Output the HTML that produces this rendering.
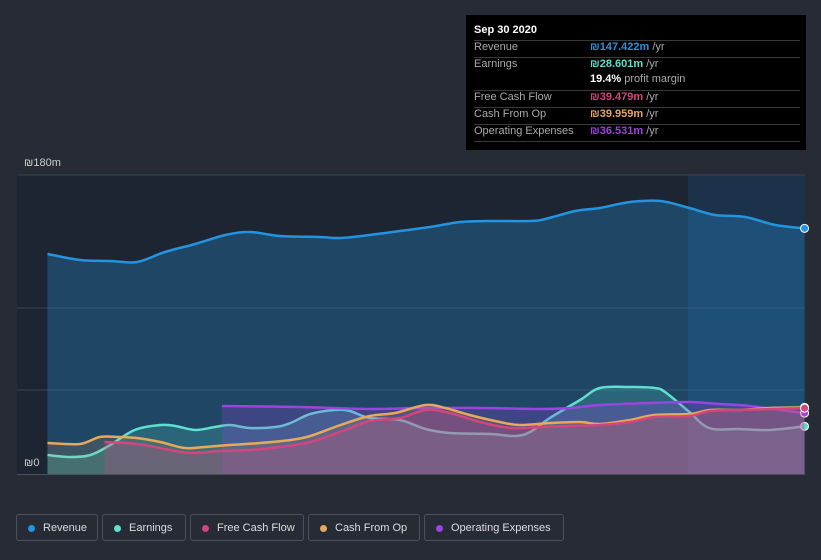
<!DOCTYPE html>
<html><head><meta charset="utf-8"><style>
body{margin:0;background:#262b36;font-family:"Liberation Sans",sans-serif;}
#wrap{position:relative;width:821px;height:560px;overflow:hidden;background:#262b36;}
.tt{position:absolute;left:466px;top:15px;width:340px;height:135px;background:#000;color:#fff;font-size:11px;}
.tt .row{position:absolute;left:8px;width:326px;height:16px;border-top:1px solid #3a3a3a;color:#aaa;}
.tt .row span{position:absolute;left:116px;font-weight:bold;}
.leg{position:absolute;top:514px;height:27px;border:1px solid #4a5060;border-radius:3px;color:#ddd;font-size:11px;line-height:27px;box-sizing:border-box;padding-left:26px;}
.leg i{position:absolute;left:11px;top:10px;width:7px;height:7px;border-radius:50%;}
</style></head><body>
<div id="wrap">
<svg id="svg" width="821" height="560" style="position:absolute;left:0;top:0"></svg>
<div class="tt">
<div style="position:absolute;left:8px;top:9px;font-weight:bold;font-size:11px">Sep 30 2020</div>
<div class="row" style="top:25px">Revenue<span style="color:#2394df">₪147.422m <b style="font-weight:normal;color:#aaa">/yr</b></span></div>
<div class="row" style="top:42px">Earnings<span style="color:#5fe0cf">₪28.601m <b style="font-weight:normal;color:#aaa">/yr</b></span></div>
<div class="row" style="top:58px;border-top:none"><span style="color:#fff">19.4% <b style="font-weight:normal;color:#aaa">profit margin</b></span></div>
<div class="row" style="top:75px">Free Cash Flow<span style="color:#d2457f">₪39.479m <b style="font-weight:normal;color:#aaa">/yr</b></span></div>
<div class="row" style="top:92px">Cash From Op<span style="color:#e6a95a">₪39.959m <b style="font-weight:normal;color:#aaa">/yr</b></span></div>
<div class="row" style="top:109px">Operating Expenses<span style="color:#9b44e0">₪36.531m <b style="font-weight:normal;color:#aaa">/yr</b></span></div>
<div style="position:absolute;left:8px;top:126px;width:326px;border-top:1px solid #3a3a3a"></div>
</div>
<div class="leg" style="left:16px;width:82px"><i style="background:#2394df"></i>Revenue</div>
<div class="leg" style="left:102px;width:84px"><i style="background:#5fe0cf"></i>Earnings</div>
<div class="leg" style="left:190px;width:114px"><i style="background:#d2457f"></i>Free Cash Flow</div>
<div class="leg" style="left:308px;width:112px"><i style="background:#e6a95a"></i>Cash From Op</div>
<div class="leg" style="left:424px;width:140px"><i style="background:#9b44e0"></i>Operating Expenses</div>
</div>
<script>
const revYears=[14.23,14.51,14.77,15.0,15.24,15.5,15.76,15.97,16.23,16.57,16.75,17.0,17.26,17.52,17.78,18.04,18.38,18.51,18.77,18.98,19.24,19.5,19.75,19.97,20.23,20.49,20.74];
const revVals=[132,128.4,127.8,127.2,133.2,138,143.4,145.2,142.8,142.2,141.6,143.4,145.8,148.2,151.2,151.8,151.8,153,157.8,159.6,163.2,163.8,159.6,155.4,154.2,149.4,147.4];
const earnYears=[14.23,14.42,14.6,14.77,14.98,15.2,15.33,15.5,15.67,15.8,15.97,16.19,16.32,16.49,16.7,16.83,17.0,17.26,17.48,17.69,18.04,18.25,18.38,18.55,18.81,18.98,19.24,19.45,19.54,19.75,19.92,20.18,20.44,20.74];
const earnVals=[11.4,10.2,11.4,17.4,26.4,29.4,28.8,26.4,28.2,29.4,27.6,28.2,30.6,36,38.4,37.8,33.6,32.4,27,24.6,24,22.8,25.2,33.6,44.4,51.6,52.2,51.6,49.2,37.2,27.6,27,26.4,28.6];
const cfoYears=[14.23,14.51,14.68,14.85,15.0,15.2,15.41,15.58,15.8,16.06,16.32,16.49,16.75,17.0,17.22,17.48,17.65,17.86,18.12,18.29,18.55,18.81,18.98,19.24,19.45,19.75,19.93,20.18,20.44,20.74];
const cfoVals=[18.6,18,22.2,22.2,21.6,19.2,15.6,16.2,17.4,18.6,20.4,22.8,29.4,34.8,36.6,41.4,39.6,35.4,31.2,29.4,30.6,31.2,30,32.4,35.4,36,38.4,38.4,39.6,40];
const fcfYears=[14.72,15.0,15.24,15.46,15.71,15.97,16.23,16.49,16.79,17.0,17.26,17.48,17.69,17.95,18.21,18.47,18.72,18.98,19.24,19.45,19.75,19.93,20.18,20.74];
const fcfVals=[19.2,18,15,12.6,13.8,14.4,16.2,19.2,26.4,31.8,33.6,38.4,36.6,31.2,27.6,28.2,28.8,29.4,31.2,34.2,34.8,37.8,38.4,39.5];
const opexYears=[15.73,16.4,17.0,17.43,17.95,18.47,18.72,18.98,19.41,19.75,20.01,20.27,20.74];
const opexVals=[40.8,40.2,39,39.6,39.6,39,39.6,41.4,42.6,43.2,42,40.8,36.5];
const xTicks=[2015,2016,2017,2018,2019,2020];
const yTicks=["₪0","₪180m"];
const X=y=>137+(y-15)*116.3, Y=v=>474-v*300/180;
const svg=document.getElementById('svg'),NS='http://www.w3.org/2000/svg';
function mk(t,a,name){const e=document.createElementNS(NS,t);for(const k in a)e.setAttribute(k,a[k]);


svg.appendChild(e);return e;}
mk('rect',{x:17,y:175,width:788,height:299,fill:'#1e2532'},'plot-background');
mk('rect',{x:688,y:175,width:117,height:299,fill:'#1b3550',opacity:0.8},'forecast-highlight');
[175,308,390].forEach((g,i)=>mk('line',{x1:17,x2:805,y1:g,y2:g,stroke:'#3a4250','stroke-width':1},'gridline-'+i));
function path(xs,vs){const p=xs.map((x,i)=>[X(x),Y(vs[i])]);let d='M'+p[0][0]+','+p[0][1];
for(let i=0;i<p.length-1;i++){const p0=p[i-1]||p[i],p1=p[i],p2=p[i+1],p3=p[i+2]||p2;
d+=' C'+(p1[0]+(p2[0]-p0[0])/6)+','+(p1[1]+(p2[1]-p0[1])/6)+' '+(p2[0]-(p3[0]-p1[0])/6)+','+(p2[1]-(p3[1]-p1[1])/6)+' '+p2[0]+','+p2[1];}
return [d,p];}
function series(xs,vs,col,fillOp,name){const [d,p]=path(xs,vs);
mk('path',{d:d+' L'+p[p.length-1][0]+',474 L'+p[0][0]+',474 Z',fill:col,opacity:fillOp},name+'-area');
mk('path',{d:d,fill:'none',stroke:col,'stroke-width':2.5},name+'-line');
mk('circle',{cx:p[p.length-1][0],cy:p[p.length-1][1],r:4,fill:col,stroke:'#fff','stroke-width':1},name+'-end-dot');}
series(revYears,revVals,'#2394df',0.3,'revenue');
series(earnYears,earnVals,'#5fe0cf',0.2,'earnings');
series(opexYears,opexVals,'#9b44e0',0.25,'operating-expenses');
series(cfoYears,cfoVals,'#e6a95a',0.15,'cash-from-op');
series(fcfYears,fcfVals,'#d2457f',0.25,'free-cash-flow');
mk('line',{x1:17,x2:805,y1:474.5,y2:474.5,stroke:'#4a5262','stroke-width':1},'x-axis-line');
xTicks.forEach(t=>{mk('line',{x1:X(t),x2:X(t),y1:475,y2:480,stroke:'#4a5262'},'x-tick-'+t);
const e=mk('text',{x:X(t),y:492,'text-anchor':'middle',fill:'#ccc','font-size':11,'font-family':'Liberation Sans, sans-serif'},'x-tick-label-'+t);e.textContent=t;});
const l0=mk('text',{x:24,y:466,fill:'#ccc','font-size':11,'font-family':'Liberation Sans, sans-serif'},'y-tick-label-0');l0.textContent=yTicks[0];
const l1=mk('text',{x:24,y:166,fill:'#ccc','font-size':11,'font-family':'Liberation Sans, sans-serif'},'y-tick-label-180m');l1.textContent=yTicks[1];
</script>
</body></html>
